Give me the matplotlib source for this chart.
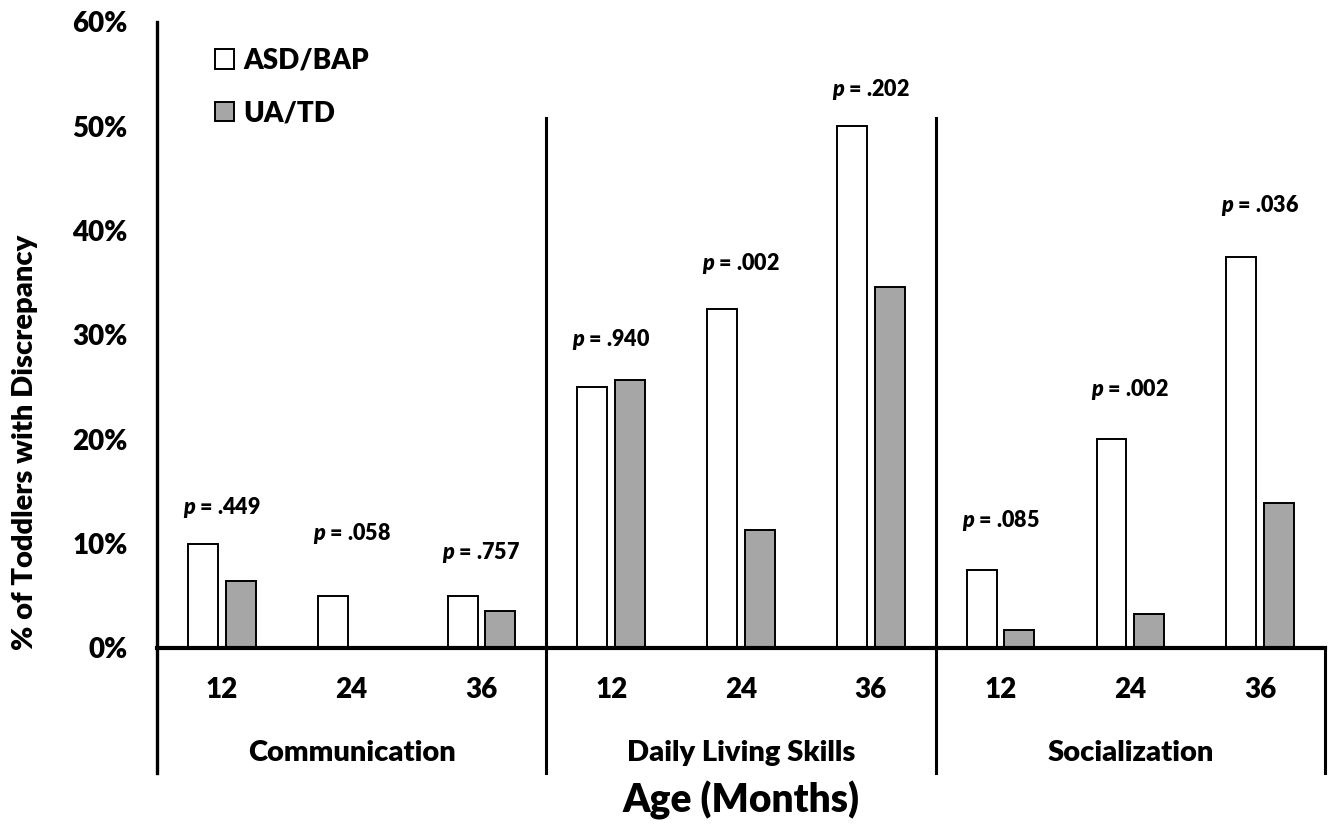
import matplotlib
matplotlib.use("Agg")
import matplotlib.pyplot as plt
from matplotlib.patches import Patch
import numpy as np

plt.rcParams['font.family'] = ['Lato', 'DejaVu Sans']
plt.rcParams['font.weight'] = 'heavy'
plt.rcParams['mathtext.fontset'] = 'custom'
plt.rcParams['mathtext.bfit'] = 'Lato:italic:heavy'

domains = ["Communication", "Daily Living Skills", "Socialization"]
ages = ["12", "24", "36"]
asd_bap = [10.0, 5.0, 5.0, 25.0, 32.5, 50.0, 7.5, 20.0, 37.5]
ua_td = [6.4, 0.0, 3.5, 25.7, 11.3, 34.6, 1.7, 3.2, 13.9]
p_labels = [".449", ".058", ".757", ".940", ".002", ".202", ".085", ".002", ".036"]
p_heights = [13.5, 11.0, 9.1, 29.6, 36.8, 53.5, 12.2, 24.8, 42.4]
yticks = [0, 10, 20, 30, 40, 50, 60]

W = "heavy"

fig = plt.figure(figsize=(13.37, 8.27), dpi=100)
ax = fig.add_axes([157/1337, (827-773)/827, (1325-157)/1337, (773-22)/827])

n = len(asd_bap)
x = np.arange(n)
w = 0.23
off = 0.145
ax.bar(x - off, asd_bap, width=w, color="white", edgecolor="black", linewidth=1.4, zorder=2)
ax.bar(x + off, ua_td, width=w, color="#A6A6A6", edgecolor="black", linewidth=1.4, zorder=2)

for xi, lab, h in zip(x, p_labels, p_heights):
    ax.text(xi, h, r"$\bfit{p}$" + " = " + lab, ha="center", va="center",
            fontsize=15.5, fontweight=W)

ax.set_xlim(-0.5, n - 0.5)
ax.set_ylim(-12, 60)
ax.set_yticks(yticks)
ax.set_yticklabels([f"{t}%" for t in yticks], fontsize=20, fontweight=W)
ax.tick_params(axis="y", length=0, pad=21)
ax.set_xticks([])

for s in ["top", "right", "bottom"]:
    ax.spines[s].set_visible(False)
ax.spines["left"].set_linewidth(2.4)

# zero line
ax.plot([-0.5, n - 0.5], [0, 0], color="black", lw=3.0, zorder=3, clip_on=False)
# group separators
for b in [2.5, 5.5]:
    ax.plot([b, b], [-12, 50.8], color="black", lw=2.2, zorder=3, clip_on=False)
ax.plot([n - 0.5, n - 0.5], [-12, 0], color="black", lw=2.2, zorder=3, clip_on=False)

# age labels
for i in range(n):
    ax.text(i, -4.0, ages[i % 3], ha="center", va="center", fontsize=20, fontweight=W)
for g, d in enumerate(domains):
    ax.text(g * 3 + 1, -10.1, d, ha="center", va="center", fontsize=21, fontweight=W)

fig.text((157 + 1325) / 2 / 1337, 1 - 800 / 827, "Age (Months)", ha="center", va="center",
         fontsize=28, fontweight=W)
fig.text(25 / 1337, 1 - 442 / 827, "% of Toddlers with Discrepancy", rotation=90,
         ha="center", va="center", fontsize=21, fontweight=W)

handles = [Patch(facecolor="white", edgecolor="black", linewidth=1.4, label="ASD/BAP"),
           Patch(facecolor="#A6A6A6", edgecolor="black", linewidth=1.4, label="UA/TD")]
leg = ax.legend(handles=handles, loc="upper left", bbox_to_anchor=(0.035, 0.988),
                frameon=False, prop={"size": 20, "weight": W},
                handlelength=0.7, handleheight=0.7, handletextpad=0.35, labelspacing=0.95,
                borderaxespad=0.2)

fig.savefig("out.png", dpi=100)
